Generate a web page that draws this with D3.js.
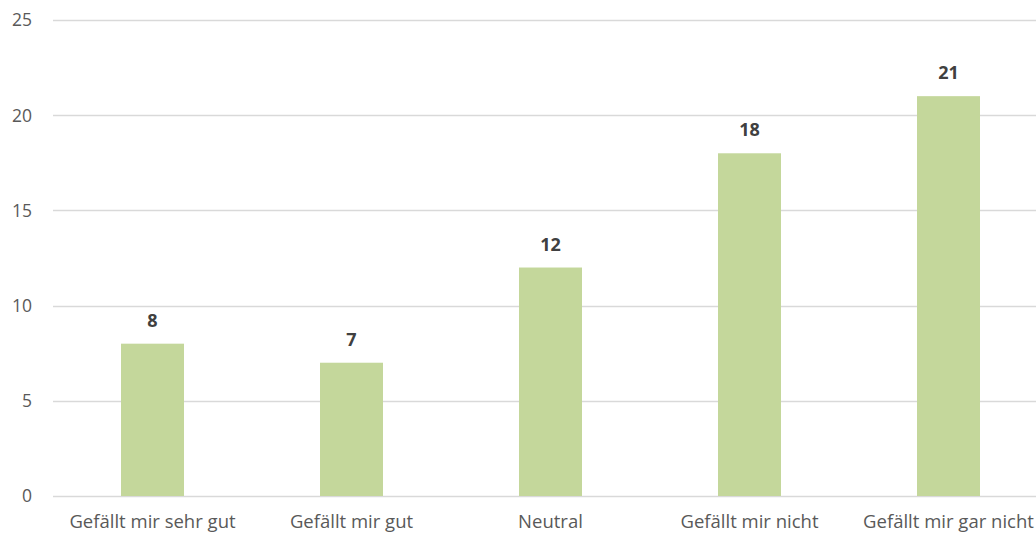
<!DOCTYPE html>
<html><head><meta charset="utf-8">
<script src="https://cdn.jsdelivr.net/npm/d3@7"></script>
<style>body{margin:0;background:#fff;} svg{display:block;}</style>
</head><body>
<script>
const categories = ["Gefällt mir sehr gut","Gefällt mir gut","Neutral","Gefällt mir nicht","Gefällt mir gar nicht"];
const values = [8, 7, 12, 18, 21];
const yTicks = [0, 5, 10, 15, 20, 25];

const W = 1036, H = 534;
const svg = d3.select("body").append("svg").attr("width", W).attr("height", H);
const x = d3.scaleBand().domain(categories).range([53, 1048]).paddingInner(0).paddingOuter(0);
const y = d3.scaleLinear().domain([0, 25]).range([496, 20]);
const font = "'Open Sans', sans-serif";

// gridlines
svg.append("g").selectAll("line").data(yTicks).join("line")
  .attr("x1", 53).attr("x2", W)
  .attr("y1", d => Math.round(y(d)) + 0.5).attr("y2", d => Math.round(y(d)) + 0.5)
  .attr("stroke", "#d9d9d9").attr("stroke-width", 1.3);

// y labels
svg.append("g").selectAll("text").data(yTicks).join("text")
  .attr("x", 32).attr("y", d => y(d)).attr("dy", "0.36em")
  .attr("text-anchor", "end").attr("font-family", font).attr("font-size", 17.5)
  .attr("fill", "#595959").text(d => d);

// bars
const bw = 63;
svg.append("g").selectAll("rect").data(values).join("rect")
  .attr("x", (d, i) => x(categories[i]) + x.bandwidth() / 2 - bw / 2)
  .attr("width", bw)
  .attr("y", d => y(d)).attr("height", d => y(0) - y(d))
  .attr("fill", "#c4d79b");

// value labels
svg.append("g").selectAll("text").data(values).join("text")
  .attr("x", (d, i) => x(categories[i]) + x.bandwidth() / 2)
  .attr("y", d => y(d) - 17)
  .attr("text-anchor", "middle").attr("font-family", font).attr("font-size", 18)
  .attr("font-weight", "bold").attr("fill", "#404040").text(d => d);

// x labels
svg.append("g").selectAll("text").data(categories).join("text")
  .attr("x", d => x(d) + x.bandwidth() / 2)
  .attr("y", 528)
  .attr("text-anchor", "middle").attr("font-family", font).attr("font-size", 18.5)
  .attr("fill", "#595959").text(d => d);
</script>
</body></html>
